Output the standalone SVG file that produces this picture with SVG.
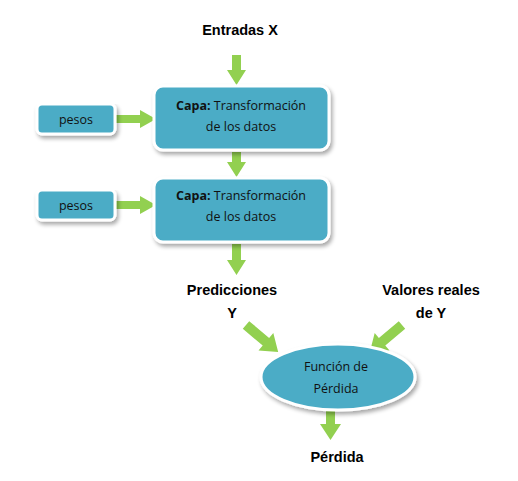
<svg xmlns="http://www.w3.org/2000/svg" width="518" height="481" viewBox="0 0 518 481">
<defs>
<filter id="sh" x="-10%" y="-10%" width="130%" height="140%">
<feGaussianBlur in="SourceAlpha" stdDeviation="2"/>
<feOffset dx="2" dy="3" result="b"/>
<feComponentTransfer><feFuncA type="linear" slope="0.35"/></feComponentTransfer>
<feMerge><feMergeNode/><feMergeNode in="SourceGraphic"/></feMerge>
</filter>
<polygon id="diag" points="0,-5 26,-5 26,-11.5 42,0 26,11.5 26,5 0,5"/>
</defs>
<style>
.box{fill:#4BACC6;stroke:#ffffff;stroke-width:3;filter:url(#sh)}
.arr{fill:#92D050}
.t{font-family:"Open Sans","Liberation Sans",Arial,sans-serif;font-size:12.5px;fill:#111;text-anchor:middle}
.lbl{font-family:"Liberation Sans",Arial,sans-serif;font-size:14.5px;font-weight:bold;fill:#000;text-anchor:middle}
</style>
<g id="connectors">
<polygon class="arr" points="232,55 241,55 241,70 246,70 236.5,85 227,70 232,70"/>
<polygon class="arr" points="232,152 241,152 241,162 246,162 236.5,177 227,162 232,162"/>
<polygon class="arr" points="232,244 241,244 241,260 246,260 236.5,275 227,260 232,260"/>
<polygon class="arr" points="116,115 140,115 140,110 156,119 140,128 140,123 116,123"/>
<polygon class="arr" points="116,201 140,201 140,196 156,205 140,214 140,209 116,209"/>
<use href="#diag" class="arr" transform="translate(246,325) rotate(40)"/>
<use href="#diag" class="arr" transform="translate(402,325) rotate(140)"/>
<polygon class="arr" points="326,411 335,411 335,424 341,424 330.5,440 320,424 326,424"/>
</g>
<g id="layer1">
<rect class="box" x="154" y="86" width="175" height="64" rx="9"/>
<text class="t" x="241" y="110"><tspan font-weight="bold">Capa:</tspan> Transformación</text>
<text class="t" x="241" y="131">de los datos</text>
</g>
<g id="layer2">
<rect class="box" x="154" y="178" width="175" height="64" rx="9"/>
<text class="t" x="241" y="200"><tspan font-weight="bold">Capa:</tspan> Transformación</text>
<text class="t" x="241" y="221">de los datos</text>
</g>
<g id="pesos1">
<rect class="box" x="37" y="104" width="78" height="30" rx="5"/>
<text class="t" x="76" y="124">pesos</text>
</g>
<g id="pesos2">
<rect class="box" x="37" y="190" width="78" height="30" rx="5"/>
<text class="t" x="76" y="210">pesos</text>
</g>
<g id="perdida_fn">
<ellipse class="box" cx="338" cy="377" rx="77" ry="33"/>
<text class="t" x="336" y="371">Función de</text>
<text class="t" x="336" y="393">Pérdida</text>
</g>
<g id="labels">
<text class="lbl" x="240" y="35">Entradas X</text>
<text class="lbl" x="232" y="295">Predicciones</text>
<text class="lbl" x="232" y="318">Y</text>
<text class="lbl" x="431" y="295">Valores reales</text>
<text class="lbl" x="431" y="318">de Y</text>
<text class="lbl" x="337" y="462">Pérdida</text>
</g>
</svg>
